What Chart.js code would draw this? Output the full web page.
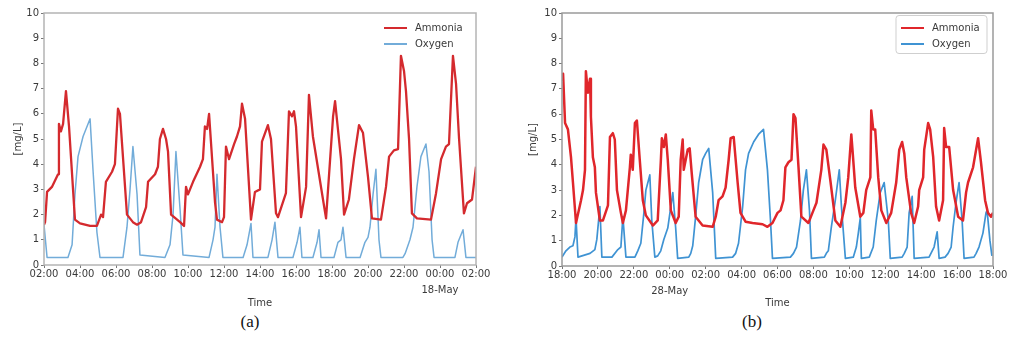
<!DOCTYPE html>
<html>
<head>
<meta charset="utf-8">
<script src="https://cdn.jsdelivr.net/npm/chart.js@4/dist/chart.umd.min.js"></script>
<style>
  html, body { margin: 0; padding: 0; background: #fff; }
  body { width: 1011px; height: 342px; position: relative; overflow: hidden; }
  .panel { position: absolute; top: 0; height: 312px; }
  #wrapA { left: 0; width: 500px; }
  #wrapB { left: 500px; width: 511px; }
  .cap { position: absolute; top: 312px; font-family: "Liberation Serif", "Times New Roman", serif; font-size: 17px; color: #111; transform: translateX(-50%); }
</style>
</head>
<body>
<div class="panel" id="wrapA"><canvas id="chartA"></canvas></div>
<div class="panel" id="wrapB"><canvas id="chartB"></canvas></div>
<div class="cap" style="left:250px">(a)</div>
<div class="cap" style="left:752px">(b)</div>
<script>
// hours since the first tick of each panel
const ticksA = ["02:00", "04:00", "06:00", "08:00", "10:00", "12:00", "14:00", "16:00", "18:00", "20:00", "22:00", "00:00", "02:00"];
const ticksB = ["18:00", "20:00", "22:00", "00:00", "02:00", "04:00", "06:00", "08:00", "10:00", "12:00", "14:00", "16:00", "18:00"];
const dateA = "18-May";
const dateB = "28-May";
const seriesNames = ["Ammonia", "Oxygen"];

const ammoniaATime = [0, 0.06, 0.17, 0.44, 0.78, 0.83, 0.94, 1.06, 1.22, 1.39, 1.72, 2.0, 2.56, 2.94, 3.17, 3.28, 3.44, 3.78, 3.94, 4.11, 4.22, 4.61, 4.94, 5.17, 5.39, 5.67, 5.78, 6.17, 6.33, 6.44, 6.61, 6.78, 6.89, 7.06, 7.56, 7.78, 7.89, 8.0, 8.28, 8.67, 8.83, 8.94, 9.06, 9.17, 9.5, 9.61, 9.89, 10.0, 10.11, 10.28, 10.56, 10.72, 10.89, 11.0, 11.17, 11.5, 11.72, 12.0, 12.11, 12.44, 12.61, 12.89, 13.0, 13.44, 13.61, 13.78, 13.89, 14.0, 14.28, 14.56, 14.72, 14.94, 15.5, 15.67, 16.06, 16.17, 16.5, 16.67, 16.94, 17.22, 17.5, 17.72, 18.0, 18.22, 18.72, 19.0, 19.17, 19.44, 19.67, 19.83, 20.0, 20.11, 20.28, 20.44, 20.72, 21.5, 21.78, 22.06, 22.33, 22.5, 22.72, 22.89, 23.06, 23.33, 23.5, 23.78, 24.0];
const ammoniaA = [1.6, 1.7, 2.9, 3.1, 3.6, 5.6, 5.3, 5.6, 6.9, 5.5, 1.8, 1.65, 1.55, 1.55, 2.0, 1.9, 3.3, 3.7, 4.0, 6.2, 6.0, 2.0, 1.7, 1.6, 1.7, 2.3, 3.3, 3.6, 3.9, 5.0, 5.4, 5.0, 4.5, 2.0, 1.7, 1.55, 3.1, 2.8, 3.3, 3.9, 4.2, 5.5, 5.4, 6.0, 2.5, 1.8, 1.7, 1.9, 4.7, 4.2, 4.8, 5.1, 5.5, 6.4, 5.8, 1.8, 2.9, 3.0, 4.9, 5.55, 5.0, 2.05, 1.9, 2.85, 6.1, 5.9, 6.1, 5.5, 1.9, 3.1, 6.75, 5.1, 2.6, 1.85, 5.9, 6.5, 4.2, 2.0, 2.6, 4.2, 5.55, 5.25, 3.5, 1.85, 1.8, 3.1, 4.3, 4.55, 4.6, 8.3, 7.7, 6.9, 5.0, 2.05, 1.85, 1.8, 2.85, 4.2, 4.7, 4.8, 8.3, 7.2, 5.0, 2.05, 2.45, 2.6, 3.9];

const oxygenATime = [0, 0.17, 1.33, 1.56, 1.72, 1.89, 2.17, 2.56, 2.72, 2.94, 3.11, 4.39, 4.61, 4.78, 4.94, 5.17, 5.33, 6.72, 7.0, 7.17, 7.33, 7.56, 7.72, 9.17, 9.39, 9.5, 9.61, 9.78, 9.94, 11.06, 11.28, 11.5, 11.61, 12.44, 12.67, 12.83, 13.0, 13.83, 14.06, 14.22, 14.33, 14.94, 15.17, 15.28, 15.39, 16.11, 16.33, 16.5, 16.61, 16.78, 17.56, 17.83, 18.0, 18.11, 18.28, 18.44, 18.61, 18.72, 19.94, 20.06, 20.33, 20.5, 20.72, 20.94, 21.22, 21.39, 21.56, 21.67, 22.83, 23.0, 23.28, 23.44, 24.0];
const oxygenA = [1.6, 0.3, 0.3, 0.8, 2.8, 4.3, 5.1, 5.8, 3.8, 1.3, 0.3, 0.3, 1.5, 3.0, 4.7, 2.8, 0.4, 0.3, 0.8, 2.0, 4.5, 2.2, 0.4, 0.3, 1.0, 1.5, 3.6, 1.5, 0.3, 0.3, 0.8, 1.65, 0.3, 0.3, 1.0, 1.7, 0.3, 0.3, 0.9, 1.5, 0.3, 0.3, 0.9, 1.4, 0.3, 0.3, 0.9, 1.0, 1.5, 0.3, 0.3, 0.9, 1.1, 1.5, 2.8, 3.8, 1.0, 0.3, 0.3, 0.45, 1.0, 1.5, 3.1, 4.3, 4.8, 3.7, 1.0, 0.3, 0.3, 0.9, 1.4, 0.3, 0.3];

const ammoniaBTime = [0, 0.06, 0.17, 0.33, 0.5, 0.61, 0.78, 1.06, 1.17, 1.28, 1.33, 1.44, 1.56, 1.61, 1.72, 1.83, 1.89, 2.11, 2.28, 2.56, 2.67, 2.83, 2.94, 3.06, 3.28, 3.39, 3.56, 3.78, 3.83, 3.94, 4.06, 4.17, 4.33, 4.5, 4.67, 5.06, 5.33, 5.5, 5.56, 5.67, 5.78, 5.89, 6.06, 6.33, 6.5, 6.61, 6.72, 6.78, 6.89, 7.0, 7.11, 7.22, 7.44, 7.83, 8.39, 8.56, 8.72, 8.94, 9.11, 9.28, 9.39, 9.56, 9.78, 9.94, 10.22, 10.61, 11.17, 11.44, 11.72, 12.0, 12.17, 12.33, 12.44, 12.61, 12.78, 12.89, 13.0, 13.17, 13.33, 13.72, 14.0, 14.17, 14.44, 14.56, 14.72, 14.94, 15.22, 15.5, 15.78, 15.94, 16.11, 16.17, 16.33, 16.61, 16.78, 16.94, 17.17, 17.22, 17.33, 17.44, 17.61, 17.78, 18.06, 18.33, 18.61, 18.78, 18.94, 19.06, 19.17, 19.44, 19.61, 19.83, 19.89, 20.11, 20.17, 20.39, 20.5, 20.67, 20.83, 21.0, 21.22, 21.28, 21.39, 21.56, 21.78, 22.06, 22.33, 22.5, 22.61, 22.89, 23.17, 23.33, 23.56, 23.72, 23.89, 24.0];
const ammoniaB = [7.3, 7.6, 5.65, 5.4, 4.3, 3.3, 1.7, 2.6, 3.0, 3.8, 7.7, 6.85, 7.4, 5.9, 4.3, 3.9, 2.9, 1.8, 1.8, 2.4, 5.1, 5.25, 5.0, 3.0, 2.1, 1.7, 2.2, 3.9, 4.4, 3.8, 5.65, 5.75, 4.2, 2.6, 2.0, 1.6, 1.8, 4.1, 5.05, 4.7, 5.2, 4.2, 2.2, 1.7, 1.95, 4.2, 5.0, 3.8, 4.2, 4.6, 4.65, 3.7, 1.95, 1.6, 1.55, 1.95, 2.6, 2.75, 3.1, 4.2, 5.05, 5.1, 3.3, 2.1, 1.75, 1.7, 1.65, 1.55, 1.7, 2.1, 2.2, 2.6, 3.9, 4.1, 4.2, 6.0, 5.85, 3.9, 1.95, 1.7, 2.2, 2.5, 3.8, 4.8, 4.6, 3.4, 1.8, 1.55, 2.5, 3.5, 5.2, 4.65, 3.1, 1.95, 2.1, 3.0, 3.5, 6.15, 5.4, 5.4, 3.5, 2.2, 1.7, 2.1, 3.3, 4.6, 4.9, 4.45, 3.5, 2.1, 1.7, 2.35, 3.0, 3.5, 4.6, 5.65, 5.4, 4.3, 2.35, 1.8, 2.6, 5.45, 4.7, 4.7, 3.0, 1.95, 1.8, 2.9, 3.3, 3.9, 5.05, 4.1, 2.6, 2.1, 1.95, 2.1];

const oxygenBTime = [0, 0.22, 0.44, 0.61, 0.72, 0.78, 0.89, 1.56, 1.83, 1.94, 2.11, 2.22, 2.78, 3.11, 3.28, 3.39, 3.56, 4.06, 4.22, 4.39, 4.56, 4.67, 4.89, 5.0, 5.17, 5.33, 5.5, 5.67, 5.89, 6.17, 6.33, 6.44, 7.06, 7.17, 7.28, 7.44, 7.61, 7.83, 8.0, 8.17, 8.39, 8.56, 9.5, 9.67, 9.83, 10.06, 10.22, 10.39, 10.67, 10.94, 11.22, 11.44, 11.61, 11.72, 12.72, 12.89, 13.06, 13.28, 13.44, 13.61, 13.78, 13.89, 14.61, 14.72, 14.83, 15.0, 15.22, 15.44, 15.56, 15.78, 16.22, 16.39, 16.5, 16.61, 16.67, 17.11, 17.33, 17.5, 17.72, 17.94, 18.17, 18.28, 18.94, 19.06, 19.22, 19.33, 19.5, 19.61, 20.44, 20.72, 20.89, 21.0, 21.33, 21.5, 21.67, 21.78, 21.94, 22.11, 22.28, 22.39, 22.94, 23.06, 23.22, 23.44, 23.61, 23.67, 23.83, 23.94];
const oxygenB = [0.35, 0.6, 0.75, 0.8, 1.15, 1.9, 0.35, 0.5, 0.65, 1.05, 2.35, 0.35, 0.35, 0.65, 0.75, 1.95, 0.35, 0.35, 0.6, 0.9, 2.1, 3.0, 3.6, 1.8, 0.35, 0.4, 0.6, 1.05, 1.5, 2.9, 1.5, 0.3, 0.35, 0.5, 0.8, 1.95, 3.3, 4.2, 4.45, 4.65, 2.9, 0.3, 0.35, 0.5, 0.9, 2.35, 3.8, 4.45, 4.9, 5.2, 5.4, 3.8, 1.8, 0.3, 0.35, 0.5, 0.75, 1.8, 3.0, 3.8, 2.2, 0.3, 0.35, 0.5, 0.6, 1.55, 2.6, 3.8, 2.35, 0.3, 0.35, 0.75, 1.3, 1.9, 0.3, 0.35, 0.75, 1.8, 2.9, 3.3, 1.8, 0.3, 0.35, 0.5, 0.75, 2.1, 2.75, 0.3, 0.35, 0.75, 1.35, 0.3, 0.35, 0.5, 0.75, 1.55, 2.5, 3.3, 1.8, 0.3, 0.35, 0.5, 0.75, 1.3, 2.1, 2.2, 1.0, 0.4];

const pts = (xs, ys) => xs.map((x, i) => ({ x: x, y: ys[i] }));
const font = '"DejaVu Sans", Verdana, sans-serif';
const textColor = "#3a3a3a";

// legend drawn inside the plot, top right, like matplotlib's "best"
function cornerLegend(boxed) {
    return {
        id: "cornerLegend",
        afterDraw(chart) {
            const ctx = chart.ctx;
            const a = chart.chartArea;
            const x0 = a.right - 92;
            const y0 = a.top + 15;
            ctx.save();
            if (boxed) {
                ctx.fillStyle = "rgba(255,255,255,0.85)";
                ctx.strokeStyle = "#cfcfcf";
                ctx.lineWidth = 1;
                ctx.beginPath();
                ctx.roundRect(x0 - 5, a.top + 2.5, 91, 38, 3);
                ctx.fill();
                ctx.stroke();
            }
            ctx.font = "10px " + font;
            ctx.textBaseline = "middle";
            chart.data.datasets.forEach((ds, i) => {
                const y = y0 + i * 16;
                ctx.strokeStyle = ds.borderColor;
                ctx.lineWidth = 2;
                ctx.beginPath();
                ctx.moveTo(x0, y);
                ctx.lineTo(x0 + 23, y);
                ctx.stroke();
                ctx.fillStyle = textColor;
                ctx.fillText(ds.label, x0 + 31, y);
            });
            ctx.restore();
        },
    };
}

const frame = {
    id: "frame",
    afterDatasetsDraw(chart) {
        const a = chart.chartArea;
        const ctx = chart.ctx;
        ctx.save();
        ctx.strokeStyle = chart.options.frameColor || "#a8a8a8";
        ctx.lineWidth = 1.5;
        ctx.strokeRect(a.left, a.top, a.right - a.left, a.bottom - a.top);
        ctx.restore();
    },
};

function makeChart(id, cfg) {
    return new Chart(document.getElementById(id), {
        type: "line",
        data: {
            datasets: [
                {
                    label: seriesNames[0],
                    data: pts(cfg.nh4Time, cfg.nh4),
                    borderColor: cfg.red,
                    borderWidth: cfg.redWidth,
                    borderJoinStyle: "round",
                    pointRadius: 0,
                    tension: 0,
                },
                {
                    label: seriesNames[1],
                    data: pts(cfg.o2Time, cfg.o2),
                    borderColor: cfg.blue,
                    borderWidth: cfg.blueWidth,
                    borderJoinStyle: "round",
                    pointRadius: 0,
                    tension: 0,
                },
            ],
        },
        options: {
            responsive: true,
            maintainAspectRatio: false,
            animation: false,
            frameColor: cfg.frameColor,
            layout: { padding: { left: 0, top: 13, right: cfg.padRight, bottom: 0 } },
            scales: {
                x: {
                    type: "linear",
                    min: 0,
                    max: 24,
                    afterFit(s) {
                        s.height = cfg.xHeight;
                        s.paddingLeft = 0;
                        s.paddingRight = 0;
                    },
                    border: { display: false },
                    grid: { drawOnChartArea: false, drawTicks: true, tickLength: 3, color: "#777" },
                    ticks: {
                        stepSize: 2,
                        autoSkip: false,
                        maxRotation: 0,
                        padding: -2,
                        color: textColor,
                        font: { family: font, size: 10, lineHeight: "16px" },
                        callback: (v) => {
                            const i = Math.round(v / 2);
                            return i === cfg.dateIndex ? [cfg.ticks[i], cfg.date] : cfg.ticks[i];
                        },
                    },
                    title: {
                        display: true,
                        text: "Time",
                        color: textColor,
                        font: { family: font, size: 10 },
                        padding: { top: 0, bottom: 3 },
                    },
                },
                y: {
                    min: 0,
                    max: 10,
                    afterFit(s) {
                        s.width = cfg.yWidth;
                        s.paddingTop = 0;
                        s.paddingBottom = 0;
                    },
                    border: { display: false },
                    grid: { drawOnChartArea: false, drawTicks: true, tickLength: 3, color: "#777" },
                    ticks: {
                        stepSize: 1,
                        padding: 2,
                        color: textColor,
                        font: { family: font, size: 10 },
                    },
                    title: {
                        display: true,
                        text: "[mg/L]",
                        color: textColor,
                        font: { family: font, size: 10 },
                        padding: { top: cfg.titlePad, bottom: 0 },
                    },
                },
            },
            plugins: {
                legend: { display: false },
                tooltip: { enabled: false },
            },
        },
        plugins: [frame, cornerLegend(cfg.boxed)],
    });
}

makeChart("chartA", {
    nh4Time: ammoniaATime, nh4: ammoniaA,
    o2Time: oxygenATime, o2: oxygenA,
    red: "#d42a2e", blue: "#72acd9", redWidth: 2.3, blueWidth: 1.5,
    ticks: ticksA, date: dateA, dateIndex: 11, frameColor: "#b4b4b4",
    padRight: 24, yWidth: 44, xHeight: 47, titlePad: 12, boxed: false,
});

makeChart("chartB", {
    nh4Time: ammoniaBTime, nh4: ammoniaB,
    o2Time: oxygenBTime, o2: oxygenB,
    red: "#e0262b", blue: "#3f93d3", redWidth: 2.5, blueWidth: 1.7,
    ticks: ticksB, date: dateB, dateIndex: 3, frameColor: "#9a9a9a",
    padRight: 18, yWidth: 62, xHeight: 46, titlePad: 27, boxed: true,
});
</script>
</body>
</html>
